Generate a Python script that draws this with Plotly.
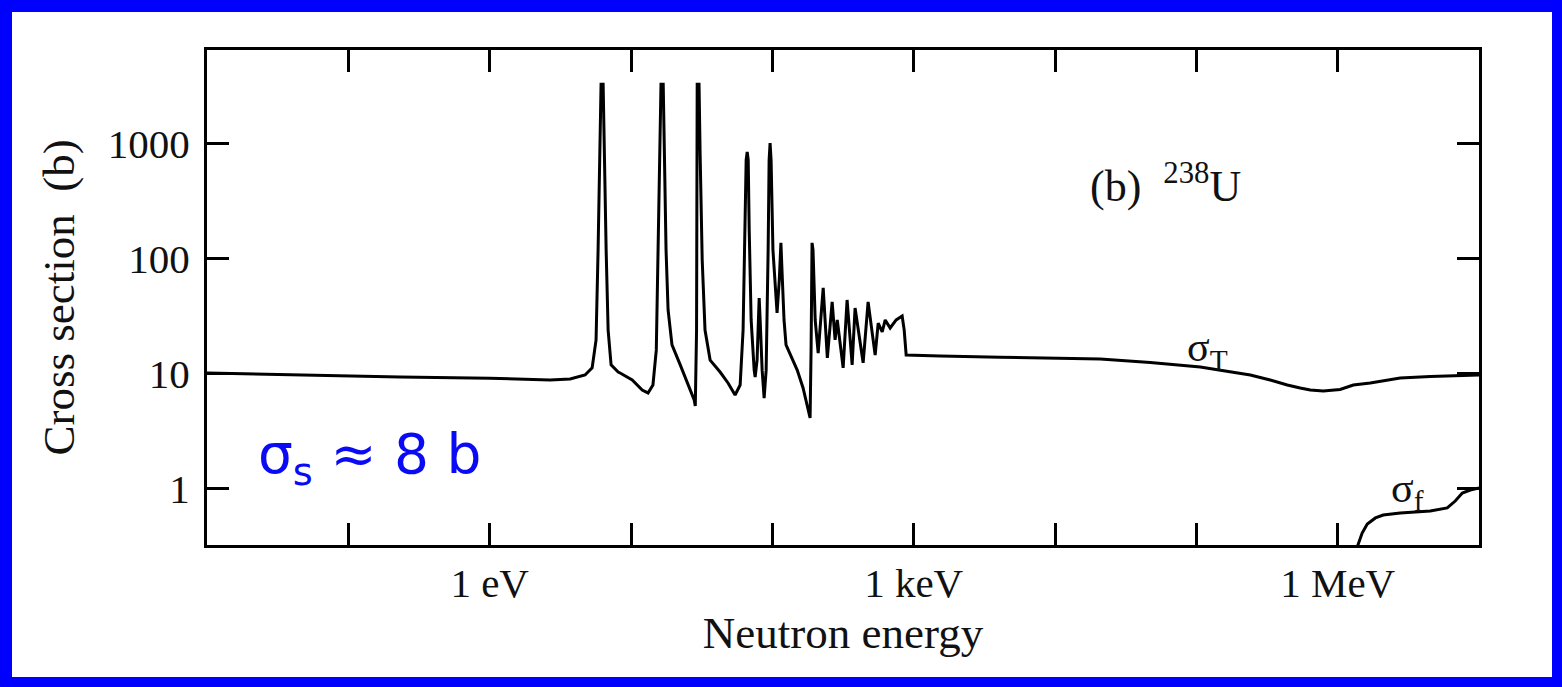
import plotly.graph_objects as go

# ---- Data ----
# Total cross section of U-238 (energy in eV, cross section in barns)
energy_T = [
    0.01, 0.0455, 0.232, 1.0, 2.67, 3.71, 4.73, 5.31, 5.66, 5.85, 6.04, 6.14, 6.35,
    6.45, 6.67, 6.89, 7.23, 8.11, 8.38, 10.2, 12.0, 13.2, 14.3, 15.1, 15.6, 16.1,
    16.3, 16.9, 17.2, 17.7, 18.3, 19.5, 22.3, 25.4, 28.0, 28.5, 29.1, 29.4, 30.3,
    30.8, 31.9, 33.4, 36.3, 42.7, 48.6, 54.5, 59.2, 62.1, 64.2, 65.3, 66.4, 67.5,
    68.6, 70.8, 74.4, 75.6, 78.0, 79.3, 80.7, 82.0, 84.7, 87.5, 90.4, 93.4, 94.9,
    96.4, 98.0, 101, 106, 108, 112, 115, 117, 121, 125, 134, 150, 165, 179, 185,
    188, 191, 194, 201, 211, 229, 245, 265, 278, 288, 317, 338, 367, 385, 439,
    476, 534, 561, 599, 629, 682, 752, 829, 857, 885, 1540, 4095, 20900, 47200,
    106700, 160000, 241000, 333000, 440000, 543000, 640000, 791000, 1.04e6, 1.29e6,
    1.70e6, 2.77e6, 4.52e6, 1.0e7,
]
sigma_T = [
    10.2, 9.8, 9.4, 9.2, 8.87, 9.05, 9.8, 11.3, 19.8, 120, 885, 3300, 3300,
    885, 120, 24.1, 12.0, 10.4, 10.2, 8.87, 7.26, 6.84, 8.02, 16.2, 120, 885,
    3300, 3300, 885, 120, 36, 17.9, 12.0, 8.0, 5.94, 5.27, 24.1, 3300, 3300,
    885, 98, 24.1, 13.2, 10.4, 8.35, 6.57, 8.02, 24.1, 218, 726, 851, 726,
    179, 29.5, 10.8, 9.42, 13.2, 29.5, 45.8, 29.5, 10.8, 6.18, 10.8, 120, 726,
    1020, 726, 120, 39.8, 33.9, 65.6, 138, 80.2, 29.5, 17.9, 14.6, 10.8, 7.56, 4.87, 4.14,
    16.2, 138, 120, 29.5, 15.2, 56, 13.8, 42.3, 19.8, 29.5, 11.3, 44, 12.0, 37.5, 12.5,
    42.3, 14.6, 27.7, 23.2, 29.5, 25.1, 29.5, 31.9, 24.1, 14.6, 14.3, 14.0, 13.5, 12.6,
    11.5, 10.6, 9.8, 8.87, 8.02, 7.56, 7.26, 7.11, 7.33, 8.02,
    8.35, 9.23, 9.51, 9.8,
]

# Fission cross section (fast region)
energy_f = [1.27e6, 1.38e6, 1.49e6, 1.62e6, 1.85e6, 2.10e6, 2.77e6, 4.52e6,
            5.96e6, 6.79e6, 7.62e6, 8.68e6, 1.0e7]
sigma_f = [0.237, 0.32, 0.414, 0.496, 0.56, 0.594, 0.618, 0.644,
           0.684, 0.786, 0.923, 0.98, 1.02]

x_tickvals = [0.1, 1, 10, 100, 1e3, 1e4, 1e5, 1e6]
x_ticktext = ["", "1 eV", "", "", "1 keV", "", "", "1 MeV"]
y_tickvals = [1, 10, 100, 1000]
y_ticktext = ["1", "10", "100", "1000"]

# ---- Figure ----
W, H = 1562, 687
L, R, T, B = 207, 1562 - 1479, 50, 687 - 545
pw, ph = W - L - R, H - T - B


def px(X):
    return (X - L) / pw


def py(Y):
    return (H - B - Y) / ph


SERIF = "Liberation Serif, Times New Roman, serif"

fig = go.Figure()
fig.add_trace(go.Scatter(x=energy_T, y=sigma_T, mode="lines",
                         line=dict(color="black", width=3), showlegend=False,
                         hoverinfo="skip"))
fig.add_trace(go.Scatter(x=energy_f, y=sigma_f, mode="lines",
                         line=dict(color="black", width=3), showlegend=False,
                         hoverinfo="skip"))

axis_common = dict(
    showline=True, linecolor="black", linewidth=3, mirror="ticks",
    ticks="inside", ticklen=22, tickwidth=2.5, tickcolor="black",
    showgrid=False, zeroline=False,
    tickfont=dict(family=SERIF, size=41, color="#111"),
)

fig.update_xaxes(type="log", range=[-2, 7], tickvals=x_tickvals, ticktext=x_ticktext,
                 title=dict(text="Neutron energy", font=dict(family=SERIF, size=45, color="#111"),
                            standoff=12),
                 **axis_common)
fig.update_yaxes(type="log", range=[-0.487, 3.817], tickvals=y_tickvals, ticktext=y_ticktext,
                 title=dict(text="Cross section  (b)", font=dict(family=SERIF, size=45, color="#111"),
                            standoff=20),
                 ticklabelstandoff=6,
                 **axis_common)

fig.update_layout(
    width=W, height=H,
    margin=dict(l=L, r=R, t=T, b=B, autoexpand=False),
    paper_bgcolor="#0000FF", plot_bgcolor="white",
    shapes=[dict(type="rect", xref="paper", yref="paper",
                 x0=px(12), x1=px(1552), y0=py(677), y1=py(12),
                 fillcolor="white", line=dict(width=0), layer="below")],
    annotations=[
        dict(text="(b)  <sup>238</sup>U", xref="paper", yref="paper",
             x=px(1088), y=py(184), xanchor="left", yanchor="middle", showarrow=False,
             font=dict(family=SERIF, size=44, color="#111")),
        dict(text="σ<sub>T</sub>", xref="paper", yref="paper",
             x=px(1185), y=py(350), xanchor="left", yanchor="middle", showarrow=False,
             font=dict(family=SERIF, size=42, color="#111")),
        dict(text="σ<sub>f</sub>", xref="paper", yref="paper",
             x=px(1389), y=py(491), xanchor="left", yanchor="middle", showarrow=False,
             font=dict(family=SERIF, size=42, color="#111")),
        dict(text="σ<sub>s</sub> ≈ 8 b", xref="paper", yref="paper",
             x=px(256), y=py(458), xanchor="left", yanchor="middle", showarrow=False,
             font=dict(family="DejaVu Sans, sans-serif", size=55, color="#0A0AF5")),
    ],
)

fig.write_html("out.html")
